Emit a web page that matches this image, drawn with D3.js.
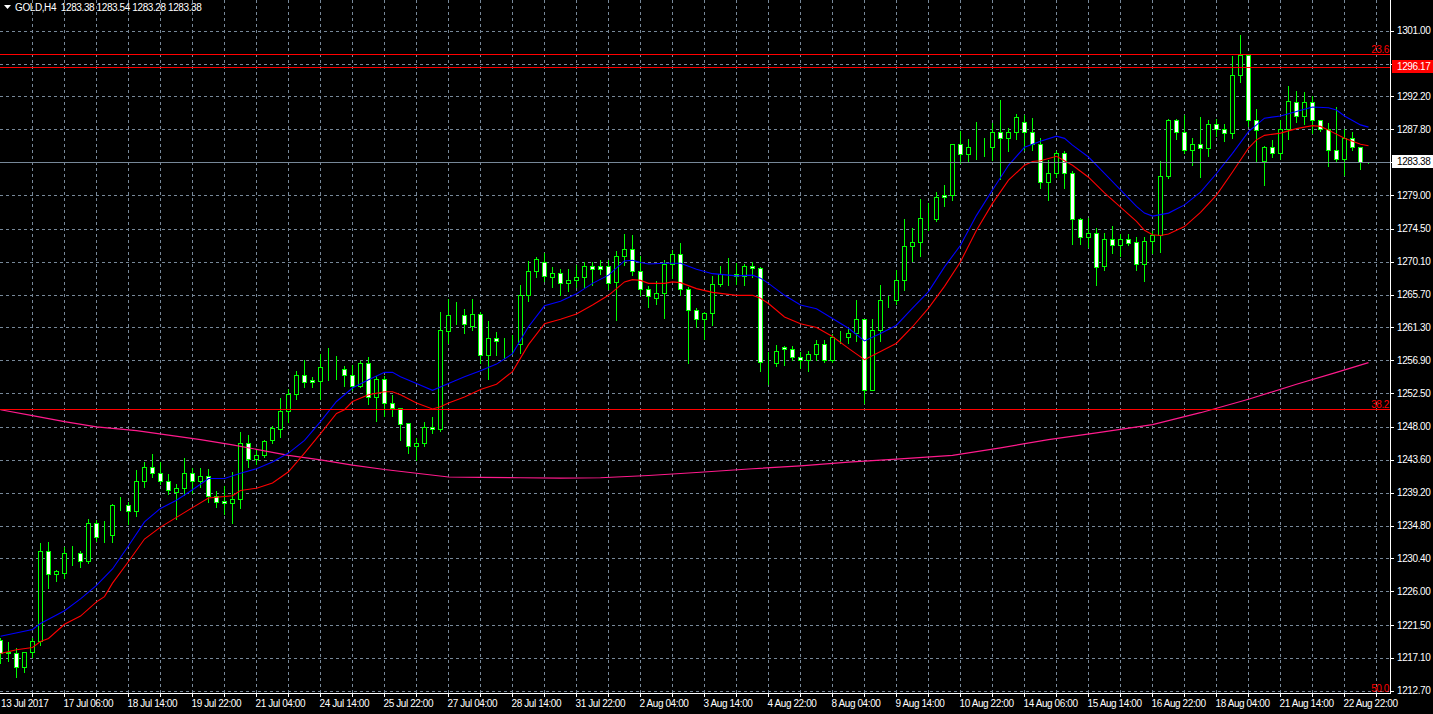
<!DOCTYPE html>
<html><head><meta charset="utf-8">
<script src="https://cdn.jsdelivr.net/npm/d3@7"></script>
<style>
html,body{margin:0;padding:0;background:#000;}
svg{display:block;}
text{font-family:"Liberation Sans",Arial,sans-serif;font-size:10px;letter-spacing:-0.4px;}
</style></head>
<body>
<script>
// ---------- DATA ----------
const symbolTitle = "GOLD,H4  1283.38 1283.54 1283.28 1283.38";
const opens = [
1219.5,1217.9,1217.8,1215.9,1217.9,1219.3,1231.4,1228.3,1228.4,1231.1,
1231.2,1230.1,1235.2,1233.5,1233.6,1237.5,1237.6,1236.8,1240.7,1242.7,
1241.8,1240.8,1239.3,1239.8,1241.9,1240.7,1241.5,1238.8,1238.1,1237.8,
1238.3,1245.9,1243.7,1244.3,1246.2,1247.7,1250.1,1252.4,1254.9,1254.3,
1254.2,1256.1,1255.9,1255.8,1254.9,1253.5,1256.5,1252.0,1254.4,1251.2,
1250.5,1248.5,1245.4,1245.9,1248.0,1247.7,1260.8,1263.0,1263.0,1261.5,
1263.1,1257.6,1259.9,1259.3,1259.2,1259.1,1265.6,1268.9,1270.0,1268.0,
1268.6,1267.3,1267.7,1268.0,1269.5,1269.5,1269.5,1267.4,1270.9,1271.8,
1268.8,1266.5,1265.3,1265.9,1269.8,1271.1,1266.4,1263.7,1262.4,1263.2,
1267.1,1268.5,1268.5,1268.2,1269.5,1269.2,1256.7,1256.6,1258.7,1258.4,
1257.4,1256.9,1257.8,1259.1,1256.9,1260.0,1260.0,1260.6,1262.4,1253.0,
1261.0,1265.0,1265.0,1267.6,1272.2,1272.7,1276.0,1275.8,1279.0,1279.0,
1285.8,1284.5,1285.4,1285.4,1285.4,1287.4,1286.6,1287.4,1288.8,1287.5,
1285.8,1280.8,1282.0,1284.6,1281.9,1275.8,1273.4,1273.9,1269.5,1273.1,
1272.3,1273.2,1272.7,1269.8,1272.9,1273.7,1281.5,1289.0,1287.4,1285.1,
1285.9,1285.3,1288.5,1287.9,1287.3,1295.1,1297.7,1289.0,1283.6,1285.4,
1284.6,1287.9,1291.5,1289.6,1291.4,1289.0,1287.9,1285.1,1283.9,1286.7,1285.4,1283.38];
const highs = [
1219.9,1219.4,1218.5,1218.0,1219.9,1232.6,1232.8,1229.0,1232.1,1232.2,
1231.5,1235.8,1235.7,1235.5,1237.8,1238.8,1238.1,1242.4,1243.4,1244.5,
1243.4,1241.8,1240.5,1244.0,1242.7,1242.6,1242.5,1239.6,1240.2,1242.1,
1247.4,1247.1,1245.1,1246.4,1248.2,1252.0,1253.2,1255.6,1257.1,1254.8,
1257.9,1258.7,1257.6,1256.3,1256.4,1256.9,1257.5,1254.9,1255.0,1252.4,
1250.7,1248.5,1246.7,1248.8,1249.5,1263.5,1265.2,1264.8,1263.9,1265.2,
1263.5,1262.3,1260.8,1260.0,1260.4,1267.1,1270.3,1270.8,1271.4,1269.5,
1269.2,1269.2,1269.8,1270.2,1270.2,1270.5,1270.5,1271.7,1273.9,1273.8,
1271.0,1267.0,1267.7,1270.4,1271.8,1272.7,1266.8,1264.1,1263.5,1268.3,
1269.7,1270.7,1270.1,1269.9,1270.2,1269.5,1258.1,1259.1,1259.0,1259.0,
1258.1,1258.3,1259.7,1259.7,1260.5,1261.0,1261.2,1265.1,1262.4,1262.6,
1267.1,1265.7,1269.1,1276.0,1274.7,1278.6,1278.1,1279.5,1280.5,1286.0,
1287.7,1286.6,1288.9,1286.8,1288.8,1291.9,1288.1,1290.0,1289.9,1289.5,
1286.8,1283.9,1285.0,1285.0,1282.4,1276.1,1276.1,1274.8,1274.1,1275.0,
1273.9,1274.0,1273.5,1273.6,1274.3,1283.7,1289.3,1289.3,1289.9,1286.8,
1289.6,1289.2,1289.3,1288.6,1297.7,1300.6,1297.7,1290.6,1285.7,1286.5,
1289.2,1293.7,1293.1,1292.9,1292.4,1289.2,1288.8,1290.9,1288.0,1287.6,1285.4,1283.54];
const lows = [
1216.4,1216.7,1214.6,1215.2,1217.2,1218.8,1226.5,1227.4,1227.8,1229.5,
1229.2,1229.8,1232.7,1232.6,1232.6,1236.9,1235.0,1236.1,1240.0,1241.3,
1240.4,1239.0,1235.7,1238.9,1239.1,1240.0,1238.0,1237.3,1236.4,1235.1,
1237.2,1242.7,1243.0,1244.0,1245.8,1246.7,1248.7,1251.7,1253.3,1253.3,
1251.7,1254.3,1254.4,1253.5,1252.9,1253.3,1251.1,1248.8,1249.5,1249.4,
1246.3,1244.5,1243.6,1245.4,1247.2,1247.5,1259.2,1261.8,1260.6,1260.9,
1256.5,1254.4,1257.6,1257.2,1257.8,1257.9,1264.8,1268.1,1267.5,1266.7,
1265.6,1266.2,1266.7,1266.7,1267.0,1268.5,1266.4,1262.3,1269.7,1268.3,
1265.6,1264.0,1264.4,1262.6,1267.9,1265.6,1256.6,1261.4,1259.7,1261.6,
1266.8,1267.0,1267.1,1267.0,1268.1,1255.5,1253.8,1256.1,1256.3,1256.9,
1255.9,1255.5,1256.9,1256.7,1256.7,1259.2,1259.2,1259.5,1251.2,1253.0,
1259.5,1264.1,1264.4,1266.3,1270.2,1270.9,1274.3,1275.6,1277.5,1278.4,
1283.3,1283.4,1283.9,1284.2,1283.7,1281.1,1284.9,1286.5,1285.1,1285.1,
1279.9,1278.4,1281.4,1280.0,1272.5,1272.5,1272.1,1267.0,1269.0,1271.2,
1270.9,1272.3,1269.0,1267.5,1271.2,1271.4,1281.3,1286.5,1284.6,1283.0,
1281.4,1284.3,1286.9,1286.3,1286.6,1294.1,1288.2,1283.4,1280.3,1284.1,
1283.9,1286.5,1288.8,1288.5,1287.3,1287.6,1282.9,1283.5,1281.7,1285.0,1282.5,1283.28];
const closes = [
1217.8,1217.8,1215.9,1217.9,1219.4,1231.4,1228.3,1228.7,1231.1,1231.2,
1230.1,1235.2,1233.3,1233.6,1237.5,1237.6,1236.8,1240.7,1242.7,1241.9,
1240.8,1239.5,1239.8,1241.9,1240.7,1241.5,1238.8,1237.9,1237.8,1238.4,
1245.9,1243.7,1244.3,1246.1,1247.8,1250.1,1252.4,1255.0,1254.0,1254.0,
1256.0,1256.1,1255.9,1254.9,1253.5,1256.5,1252.0,1254.4,1251.2,1250.5,
1248.4,1245.4,1245.9,1248.0,1247.7,1261.0,1263.0,1263.0,1261.7,1263.1,
1257.6,1259.9,1259.5,1259.3,1259.2,1265.6,1268.9,1270.4,1268.2,1268.6,
1267.3,1267.7,1268.0,1269.5,1269.1,1269.1,1267.3,1270.9,1271.8,1268.8,
1266.5,1265.5,1265.9,1269.8,1271.1,1266.4,1263.7,1262.4,1263.2,1267.1,
1268.5,1268.5,1268.2,1269.5,1269.2,1256.7,1256.7,1258.2,1258.4,1257.4,
1257.0,1257.8,1259.1,1256.9,1260.0,1260.0,1260.6,1262.4,1253.0,1261.0,
1265.0,1265.0,1267.6,1272.2,1272.7,1276.0,1276.0,1278.7,1278.7,1285.8,
1284.5,1285.4,1285.4,1285.4,1287.4,1286.6,1287.4,1289.5,1287.5,1285.9,
1280.8,1282.0,1284.6,1281.9,1275.8,1273.4,1273.9,1269.4,1273.1,1272.3,
1273.2,1272.6,1269.8,1272.9,1273.7,1281.5,1289.0,1287.4,1285.1,1285.9,
1285.3,1288.5,1287.9,1287.3,1295.1,1297.7,1289.1,1287.7,1285.4,1284.6,
1287.9,1291.6,1289.6,1291.4,1289.1,1287.9,1285.1,1283.9,1286.7,1285.4,1283.4,1283.38];

// moving averages: [bar index, price]
const maBlue = [[0,1220.0],[4,1220.9],[5,1221.7],[8,1223.4],[10,1225.0],[12,1226.8],[14,1229.0],[16,1232.1],[18,1235.3],[20,1237.1],[22,1238.2],[24,1239.6],[26,1241.1],[28,1241.1],[30,1241.8],[32,1242.4],[34,1243.3],[36,1244.5],[38,1246.2],[40,1248.7],[42,1251.4],[44,1253.2],[46,1254.3],[48,1255.3],[49,1255.3],[50,1254.7],[52,1253.8],[54,1252.9],[56,1253.8],[58,1254.7],[60,1255.5],[62,1256.4],[64,1257.8],[66,1261.4],[68,1264.2],[70,1264.8],[72,1265.8],[74,1267.2],[76,1268.3],[78,1270.2],[79,1270.3],[80,1270.0],[81,1269.8],[83,1269.9],[85,1269.9],[87,1269.1],[89,1268.5],[92,1268.2],[94,1268.3],[95,1267.9],[96,1267.2],[98,1265.6],[100,1264.3],[102,1263.8],[104,1262.5],[106,1261.2],[108,1259.5],[110,1260.5],[112,1261.6],[114,1263.9],[116,1266.1],[118,1269.4],[120,1272.3],[122,1276.3],[124,1279.7],[126,1283.0],[128,1285.4],[130,1286.2],[132,1286.9],[133,1286.6],[134,1285.7],[136,1284.1],[138,1281.9],[140,1279.7],[142,1277.5],[143,1276.6],[144,1276.2],[146,1276.6],[148,1277.7],[150,1279.4],[152,1281.9],[154,1284.6],[156,1287.5],[157,1288.4],[158,1289.3],[160,1289.6],[162,1290.2],[164,1290.8],[166,1290.7],[167,1290.4],[168,1289.6],[170,1288.4],[171,1288.1]];
const maRed = [[0,1217.7],[2,1218.2],[4,1218.5],[5,1219.3],[6,1219.7],[8,1221.6],[10,1222.7],[12,1224.6],[13,1225.3],[14,1227.1],[16,1230.0],[18,1233.0],[20,1234.6],[22,1235.9],[24,1237.2],[26,1238.5],[28,1238.7],[29,1238.8],[30,1239.5],[32,1239.8],[34,1240.5],[36,1242.0],[38,1244.5],[40,1247.1],[42,1249.8],[43,1250.3],[44,1251.4],[46,1252.3],[48,1252.7],[49,1252.7],[50,1252.3],[52,1251.2],[54,1250.4],[55,1250.7],[56,1251.2],[58,1252.0],[60,1253.0],[62,1253.7],[64,1255.4],[66,1259.0],[68,1261.8],[70,1262.4],[72,1263.1],[74,1264.3],[76,1265.6],[78,1267.4],[79,1267.7],[80,1267.6],[81,1267.2],[83,1267.2],[84,1267.4],[85,1267.3],[87,1266.5],[89,1266.0],[92,1265.6],[94,1265.6],[95,1265.2],[96,1264.5],[98,1262.7],[100,1261.8],[102,1261.3],[104,1260.1],[106,1258.5],[108,1257.0],[110,1258.1],[112,1259.2],[114,1261.4],[116,1263.9],[118,1266.8],[120,1270.1],[122,1274.3],[124,1277.9],[126,1281.0],[128,1283.0],[129,1283.5],[130,1283.6],[132,1284.2],[134,1283.0],[136,1281.4],[138,1279.3],[140,1277.4],[142,1275.5],[143,1274.3],[144,1273.7],[145,1273.6],[146,1273.8],[148,1274.8],[150,1276.7],[152,1279.0],[154,1282.1],[156,1285.3],[157,1286.4],[158,1287.0],[160,1287.3],[162,1287.9],[164,1288.3],[165,1288.2],[166,1287.7],[168,1286.6],[170,1285.8],[171,1285.6]];
const maPink = [[0,1250.3],[4,1249.5],[8,1248.7],[12,1248.0],[17,1247.5],[21,1246.9],[25,1246.3],[29,1245.6],[33,1244.8],[36,1244.2],[40,1243.6],[44,1242.9],[48,1242.3],[52,1241.8],[56,1241.3],[60,1241.25],[65,1241.2],[70,1241.15],[75,1241.2],[81,1241.5],[87,1241.9],[94,1242.4],[100,1242.8],[106,1243.3],[112,1243.7],[119,1244.2],[125,1245.2],[131,1246.3],[137,1247.2],[144,1248.3],[150,1249.9],[156,1251.7],[162,1253.7],[167,1255.3],[171,1256.6]];

const priceTicks = [1301.00,1296.60,1292.20,1287.80,1283.40,1279.00,1274.50,1270.10,1265.70,1261.30,1256.90,1252.50,1248.00,1243.60,1239.20,1234.80,1230.40,1226.00,1221.50,1217.10,1212.70];
const timeLabels = ["13 Jul 2017","17 Jul 06:00","18 Jul 14:00","19 Jul 22:00","21 Jul 04:00","24 Jul 14:00","25 Jul 22:00","27 Jul 04:00","28 Jul 14:00","31 Jul 22:00","2 Aug 04:00","3 Aug 14:00","4 Aug 22:00","8 Aug 04:00","9 Aug 14:00","10 Aug 22:00","14 Aug 06:00","15 Aug 14:00","16 Aug 22:00","18 Aug 04:00","21 Aug 14:00","22 Aug 22:00"];
const labelEvery = 8;
const gridEvery = 4;
const hLine = 1296.17;
const bidPrice = 1283.38;
const fiboLevels = [["23.6",1297.88],["38.2",1250.35],["50.0",1211.9]];

// ---------- DRAW ----------
const W = 1433, H = 714, PR = 1390, PB = 693;
const svg = d3.select("body").append("svg").attr("width", W).attr("height", H);
svg.append("rect").attr("width", W).attr("height", H).attr("fill", "#000");

const x = d3.scaleLinear().domain([0, 1]).range([0.5, 8.5]);
const y = d3.scaleLinear().domain([1212.7, 1301]).range([690.8, 30.7]);
const yr = p => Math.round(y(p)) + 0.5;

svg.append("defs").append("clipPath").attr("id", "plot")
  .append("rect").attr("x", 0).attr("y", 0).attr("width", PR).attr("height", PB);

const grid = svg.append("g").attr("stroke", "#778899").attr("stroke-dasharray", "3,3").attr("shape-rendering", "crispEdges");
priceTicks.forEach(p => grid.append("line").attr("x1", 0).attr("x2", PR).attr("y1", yr(p)).attr("y2", yr(p)));
const nBars = opens.length;
for (let i = gridEvery; x(i) < PR; i += gridEvery) {
  grid.append("line").attr("x1", x(i)).attr("x2", x(i)).attr("y1", 0).attr("y2", PB);
}

const plot = svg.append("g").attr("clip-path", "url(#plot)");

// candles
const candles = plot.append("g").attr("shape-rendering", "crispEdges");
d3.range(nBars).forEach(i => {
  const o = opens[i], c = closes[i], h = highs[i], l = lows[i];
  const g = candles.append("g");
  g.append("line").attr("x1", x(i)).attr("x2", x(i))
    .attr("y1", yr(h)).attr("y2", yr(l)).attr("stroke", "#00ff00");
  const top = yr(Math.max(o, c)), bot = yr(Math.min(o, c));
  g.append("rect").attr("x", x(i) - 2).attr("width", 4)
    .attr("y", top).attr("height", Math.max(0, bot - top))
    .attr("fill", c >= o ? "#000" : "#fff").attr("stroke", "#00ff00");
});

// moving averages
const line = d3.line().x(d => x(d[0])).y(d => y(d[1]));
plot.append("path").datum(maPink).attr("d", line).attr("fill", "none").attr("stroke", "#ff1a8c").attr("stroke-width", 1.2);
plot.append("path").datum(maRed).attr("d", line).attr("fill", "none").attr("stroke", "#ff0000").attr("stroke-width", 1.1);
plot.append("path").datum(maBlue).attr("d", line).attr("fill", "none").attr("stroke", "#0000ff").attr("stroke-width", 1.1);

// bid line
plot.append("line").attr("x1", 0).attr("x2", PR).attr("y1", yr(bidPrice)).attr("y2", yr(bidPrice))
  .attr("stroke", "#778899").attr("shape-rendering", "crispEdges");
// horizontal line
plot.append("line").attr("x1", 0).attr("x2", PR).attr("y1", yr(hLine)).attr("y2", yr(hLine))
  .attr("stroke", "#ff0000").attr("shape-rendering", "crispEdges");
// fibo levels
fiboLevels.forEach(([lab, p]) => {
  plot.append("line").attr("x1", 0).attr("x2", PR).attr("y1", yr(p)).attr("y2", yr(p))
    .attr("stroke", "#ff0000").attr("shape-rendering", "crispEdges");
  svg.append("text").attr("x", 1389).attr("y", Math.min(yr(p) - 2, 692)).attr("text-anchor", "end")
    .attr("fill", "#ff0000").text(lab);
});

// axes
svg.append("line").attr("x1", PR + 0.5).attr("x2", PR + 0.5).attr("y1", 0).attr("y2", PB + 1).attr("stroke", "#fff").attr("shape-rendering", "crispEdges");
svg.append("line").attr("x1", 0).attr("x2", PR + 1).attr("y1", PB + 0.5).attr("y2", PB + 0.5).attr("stroke", "#fff").attr("shape-rendering", "crispEdges");

// price labels (those hidden under the price boxes are not shown, as in MT4)
const boxes = [hLine, bidPrice];
priceTicks.forEach(p => {
  svg.append("line").attr("x1", PR).attr("x2", PR + 4).attr("y1", yr(p)).attr("y2", yr(p)).attr("stroke", "#fff").attr("shape-rendering", "crispEdges");
  const hidden = boxes.some(b => Math.abs(y(b) - y(p)) < 11);
  if (!hidden) svg.append("text").attr("x", PR + 7).attr("y", y(p) + 3.5).attr("fill", "#fff").text(p.toFixed(2));
});
for (let i = gridEvery; x(i) < PR; i += gridEvery) {
  svg.append("line").attr("x1", x(i)).attr("x2", x(i)).attr("y1", PB).attr("y2", PB + 4).attr("stroke", "#fff").attr("shape-rendering", "crispEdges");
}
timeLabels.forEach((t, j) => {
  const xi = j === 0 ? 1 : x(j * labelEvery) - 1;
  svg.append("text").attr("x", xi).attr("y", 707).attr("fill", "#fff").text(t);
});

// price boxes
function priceBox(p, bg, fg) {
  svg.append("rect").attr("x", PR + 2).attr("y", Math.round(y(p)) - 7).attr("width", W - PR - 2).attr("height", 13).attr("fill", bg);
  svg.append("text").attr("x", PR + 7).attr("y", y(p) + 3).attr("fill", fg).text(p.toFixed(2));
}
priceBox(hLine, "#ff0000", "#fff");
priceBox(bidPrice, "#fff", "#000");

// header
svg.append("path").attr("d", "M4,5 L11,5 L7.5,9 Z").attr("fill", "#fff");
svg.append("text").attr("x", 15).attr("y", 11).attr("fill", "#fff").attr("xml:space", "preserve").style("white-space", "pre").text(symbolTitle);
</script>
</body></html>
